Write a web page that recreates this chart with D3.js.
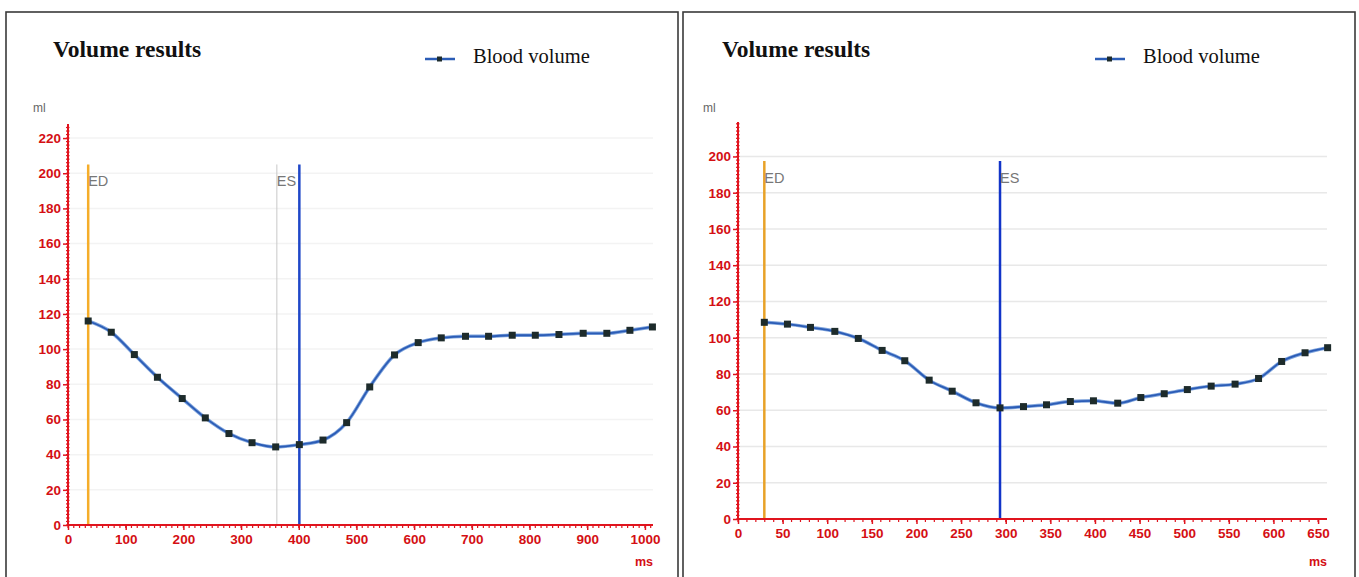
<!DOCTYPE html>
<html>
<head>
<meta charset="utf-8">
<script src="https://cdn.jsdelivr.net/npm/d3@7"></script>
<style>
  body { margin: 0; background: #fff; }
  svg { display: block; }
</style>
</head>
<body>
<script>
// ---- data ----
var leftTimes = [35, 75, 115, 155, 198, 238, 279, 319, 360, 401, 442, 483, 523, 566, 607,
                 647, 689, 729, 770, 810, 851, 893, 934, 974, 1013];
var leftVolumes = [116.0, 109.6, 96.9, 84.0, 71.9, 60.9, 52.0, 46.8, 44.4, 45.7, 48.3, 58.2, 78.5,
                   96.7, 103.7, 106.4, 107.3, 107.3, 107.9, 107.9, 108.3, 109.0, 109.0, 110.7, 112.6];
var leftXTicks = [0, 100, 200, 300, 400, 500, 600, 700, 800, 900, 1000];
var leftYTicks = [0, 20, 40, 60, 80, 100, 120, 140, 160, 180, 200, 220];
var leftMarkers = [
  {label: "ED", t: 35, color: "#f5ad2a", width: 2.5},
  {label: "ES", t: 362, color: "#c8c8c8", width: 1},
  {label: "", t: 401, color: "#1f47c8", width: 2.5}
];

var rightTimes = [29.5, 55.4, 81.2, 108.5, 134.8, 161.5, 186.9, 214.2, 240, 266.7, 293.6, 319.9, 345.7,
                  372.4, 398.3, 425.5, 451.4, 477.6, 503.5, 530.2, 557, 583.3, 609.2, 635.4, 660.7];
var rightVolumes = [108.5, 107.5, 105.7, 103.5, 99.6, 93.0, 87.3, 76.6, 70.5, 64.1, 61.3, 62.0, 63.0,
                    64.8, 65.2, 63.9, 67.0, 69.1, 71.4, 73.3, 74.4, 77.5, 86.9, 91.7, 94.5];
var rightXTicks = [0, 50, 100, 150, 200, 250, 300, 350, 400, 450, 500, 550, 600, 650];
var rightYTicks = [0, 20, 40, 60, 80, 100, 120, 140, 160, 180, 200];
var rightMarkers = [
  {label: "ED", t: 29.5, color: "#e8a228", width: 2.5},
  {label: "ES", t: 293.6, color: "#1234c8", width: 2.5}
];

var titleText = "Volume results";
var legendText = "Blood volume";

// ---- styles ----
var axisColor = "#e0141e";
var labelColor = "#d40f14";
var lineColor = "#2b5cb6";
var pointColor = "#1d2b2b";

var svg = d3.select("body").append("svg")
    .attr("width", 1359)
    .attr("height", 577);

function drawPanel(cfg) {
    var g = svg.append("g");

    // frame
    g.append("rect")
        .attr("x", cfg.frame[0]).attr("y", 12)
        .attr("width", cfg.frame[1] - cfg.frame[0]).attr("height", 600)
        .attr("fill", "#fff").attr("stroke", "#3a3a3a").attr("stroke-width", 1.6);

    var x = d3.scaleLinear().domain(cfg.xDomain).range(cfg.xRange);
    var y = d3.scaleLinear().domain(cfg.yDomain).range(cfg.yRange);

    // title + legend
    g.append("text")
        .attr("x", cfg.titleX).attr("y", 57)
        .attr("font-family", "'Liberation Serif', 'Times New Roman', serif")
        .attr("font-weight", "bold").attr("font-size", 23.5)
        .attr("fill", "#111")
        .text(titleText);

    g.append("line")
        .attr("x1", cfg.legendX).attr("x2", cfg.legendX + 30)
        .attr("y1", 59).attr("y2", 59)
        .attr("stroke", lineColor).attr("stroke-width", 2.5);
    g.append("rect")
        .attr("x", cfg.legendX + 12).attr("y", 56.5)
        .attr("width", 5).attr("height", 5)
        .attr("fill", pointColor);
    g.append("text")
        .attr("x", cfg.legendX + 48).attr("y", 63)
        .attr("font-family", "'Liberation Serif', 'Times New Roman', serif")
        .attr("font-size", 20.5).attr("fill", "#111")
        .text(legendText);

    // grid
    g.selectAll(".grid")
        .data(cfg.yTicks.filter(function (d) { return d > 0; }))
        .enter().append("line")
        .attr("x1", cfg.xRange[0] + 2).attr("x2", cfg.xRange[1])
        .attr("y1", function (d) { return y(d); })
        .attr("y2", function (d) { return y(d); })
        .attr("stroke", cfg.gridColor).attr("stroke-width", 1.5);

    // unit labels
    g.append("text")
        .attr("x", cfg.xRange[0] - 35).attr("y", 112)
        .attr("font-family", "'Liberation Sans', Arial, sans-serif")
        .attr("font-size", 12).attr("fill", "#666")
        .text("ml");
    g.append("text")
        .attr("x", cfg.xRange[1]).attr("y", 566)
        .attr("text-anchor", "end")
        .attr("font-family", "'Liberation Sans', Arial, sans-serif")
        .attr("font-weight", "bold").attr("font-size", 12.5).attr("fill", labelColor)
        .text("ms");

    // ED / ES marker lines
    cfg.markers.forEach(function (m) {
        g.append("line")
            .attr("x1", x(m.t)).attr("x2", x(m.t))
            .attr("y1", y(cfg.markerTop)).attr("y2", y(0))
            .attr("stroke", m.color).attr("stroke-width", m.width);
        if (m.label) {
            g.append("text")
                .attr("x", x(m.t)).attr("y", y(cfg.markerTop) + 22)
                .attr("font-family", "'Liberation Sans', Arial, sans-serif")
                .attr("font-size", 14.5).attr("fill", "#777")
                .text(m.label);
        }
    });

    // y axis
    var yMinor = d3.range(0, cfg.yDomain[1], 2);
    g.append("line")
        .attr("x1", cfg.xRange[0]).attr("x2", cfg.xRange[0])
        .attr("y1", cfg.yRange[0]).attr("y2", cfg.yRange[1])
        .attr("stroke", axisColor).attr("stroke-width", 2);
    g.selectAll(".yminor").data(yMinor).enter().append("line")
        .attr("x1", cfg.xRange[0] - 2).attr("x2", cfg.xRange[0] + 1.5)
        .attr("y1", function (d) { return y(d); })
        .attr("y2", function (d) { return y(d); })
        .attr("stroke", axisColor).attr("stroke-width", 1.2);
    var yAxis = d3.axisLeft(y).tickValues(cfg.yTicks).tickSize(5).tickPadding(2)
        .tickFormat(d3.format("d"));
    var ya = g.append("g")
        .attr("transform", "translate(" + cfg.xRange[0] + ",0)")
        .call(yAxis);

    // x axis
    var xMinor = d3.range(0, cfg.xDomain[1], 10);
    g.append("line")
        .attr("x1", cfg.xRange[0]).attr("x2", cfg.xRange[1])
        .attr("y1", cfg.yRange[0]).attr("y2", cfg.yRange[0])
        .attr("stroke", axisColor).attr("stroke-width", 2);
    g.selectAll(".xminor").data(xMinor).enter().append("line")
        .attr("x1", function (d) { return x(d); })
        .attr("x2", function (d) { return x(d); })
        .attr("y1", cfg.yRange[0] - 1).attr("y2", cfg.yRange[0] + 3)
        .attr("stroke", axisColor).attr("stroke-width", 1.2);
    var xAxis = d3.axisBottom(x).tickValues(cfg.xTicks).tickSize(5).tickPadding(4)
        .tickFormat(d3.format("d"));
    var xa = g.append("g")
        .attr("transform", "translate(0," + cfg.yRange[0] + ")")
        .call(xAxis);

    [ya, xa].forEach(function (a) {
        a.select(".domain").remove();
        a.selectAll(".tick line").attr("stroke", axisColor).attr("stroke-width", 1.5);
        a.selectAll(".tick text")
            .attr("fill", labelColor)
            .attr("font-family", "'Liberation Sans', Arial, sans-serif")
            .attr("font-weight", "bold")
            .attr("font-size", 13.5);
    });

    // series
    var pts = cfg.times.map(function (t, i) { return [t, cfg.volumes[i]]; });
    var line = d3.line()
        .x(function (d) { return x(d[0]); })
        .y(function (d) { return y(d[1]); })
        .curve(d3.curveMonotoneX);
    g.append("path")
        .attr("d", line(pts))
        .attr("fill", "none")
        .attr("stroke", "#7fa4dc").attr("stroke-width", 3.5);
    g.append("path")
        .attr("d", line(pts))
        .attr("fill", "none")
        .attr("stroke", lineColor).attr("stroke-width", 1.8);
    g.selectAll(".pt").data(pts).enter().append("rect")
        .attr("x", function (d) { return x(d[0]) - 3.5; })
        .attr("y", function (d) { return y(d[1]) - 3.5; })
        .attr("width", 7).attr("height", 7)
        .attr("fill", pointColor);
}

drawPanel({
    frame: [6, 678],
    xDomain: [0, 1014], xRange: [68, 653],
    yDomain: [0, 228], yRange: [525, 124],
    xTicks: leftXTicks, yTicks: leftYTicks,
    times: leftTimes, volumes: leftVolumes,
    markers: leftMarkers, markerTop: 205,
    gridColor: "#f3f3f3",
    titleX: 53, legendX: 425
});

drawPanel({
    frame: [683, 1355],
    xDomain: [0, 660], xRange: [738, 1327],
    yDomain: [0, 219], yRange: [519, 122],
    xTicks: rightXTicks, yTicks: rightYTicks,
    times: rightTimes, volumes: rightVolumes,
    markers: rightMarkers, markerTop: 197.5,
    gridColor: "#e8e8e8",
    titleX: 722, legendX: 1095
});
</script>
</body>
</html>
